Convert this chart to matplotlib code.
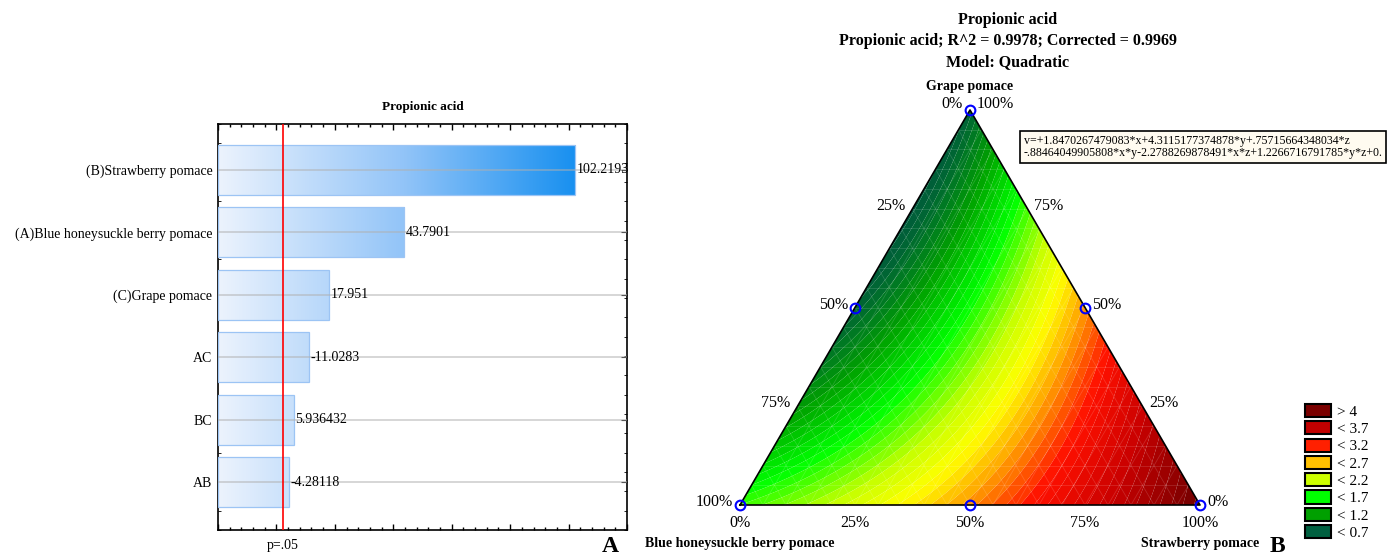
import numpy as np
import matplotlib
matplotlib.use('Agg')
import matplotlib.pyplot as plt
import matplotlib.tri as mtri
from matplotlib.colors import LinearSegmentedColormap, Normalize
from matplotlib.patches import Patch
from matplotlib.ticker import MultipleLocator, FixedLocator

plt.rcParams['font.family'] = ['Liberation Serif', 'DejaVu Serif']

# ---------------- data ----------------
effects = ["(B)Strawberry pomace", "(A)Blue honeysuckle berry pomace",
           "(C)Grape pomace", "AC", "BC", "AB"]
effect_values = [102.2193, 43.7901, 17.951, -11.0283, 5.936432, -4.28118]
effect_texts = ["102.2193", "43.7901", "17.951", "-11.0283", "5.936432", "-4.28118"]
p05_value = 2.4

coef_x, coef_y, coef_z = 1.8470267479083, 4.3115177374878, 0.75715664348034
coef_xy, coef_xz, coef_yz = -0.88464049905808, -2.2788269878491, 1.2266716791785
equation = ("v=+1.8470267479083*x+4.3115177374878*y+.75715664348034*z\n"
            "-.88464049905808*x*y-2.2788269878491*x*z+1.2266716791785*y*z+0.")

design_x = [1.0, 0.0, 0.0, 0.5, 0.5, 0.0]
design_y = [0.0, 1.0, 0.0, 0.5, 0.0, 0.5]
design_z = [0.0, 0.0, 1.0, 0.0, 0.5, 0.5]

legend_labels = ["> 4", "< 3.7", "< 3.2", "< 2.7", "< 2.2", "< 1.7", "< 1.2", "< 0.7"]
legend_colors = ["#7a0000", "#c00000", "#ff2000", "#ffc000", "#ccff00",
                 "#00ff00", "#00a000", "#006040"]

tick_fracs = [0.0, 0.25, 0.5, 0.75, 1.0]
tick_labels = ["0%", "25%", "50%", "75%", "100%"]

# colour anchors (value, colour) for the response surface
surf_vals = [0.55, 0.8, 1.2, 1.7, 2.2, 2.5, 2.8, 3.2, 3.7, 4.35]
surf_cols = ["#005540", "#006a30", "#00a000", "#00ff00", "#c8ff00",
             "#ffff00", "#ffa500", "#ff1000", "#c80000", "#6a0000"]

W, H = 1387, 558
fig = plt.figure(figsize=(W / 100, H / 100), dpi=100)

# ---------------- left: Pareto chart ----------------
ax = fig.add_axes([218 / W, (H - 530) / H, (627 - 218) / W, (530 - 124) / H])
xmin, xmax = -20, 120
n = len(effects)
ypos = np.arange(n)
absvals = np.abs(effect_values)
blue = LinearSegmentedColormap.from_list('blue', [(0, '#ecf3fd'), (0.52, '#92c4f8'), (1, '#1890f0')])
gnorm = Normalize(xmin, absvals.max())
for i, a in enumerate(absvals):
    grad = np.linspace(xmin, a, 256).reshape(1, -1)
    ax.imshow(grad, extent=[xmin, a, i + 0.4, i - 0.4], cmap=blue, norm=gnorm,
              aspect='auto', interpolation='bilinear', zorder=2)
ax.barh(ypos, absvals - xmin, left=xmin, height=0.8, facecolor='none',
        edgecolor='#9cc4f4', lw=0.9, zorder=3)
for i in ypos:
    ax.axhline(i, color='#b0b0b0', lw=1.3, alpha=0.55, zorder=4)
for i, (a, t) in enumerate(zip(absvals, effect_texts)):
    ax.text(a + 0.6, i, t, ha='left', va='center', fontsize=10, zorder=5, clip_on=False)
ax.axvline(p05_value, color='#ff0000', lw=1.2, zorder=6)

ax.set_xlim(xmin, xmax)
ylo, yhi = -0.736, 5.764
ax.set_ylim(yhi, ylo)
ax.set_xticks(np.arange(xmin, xmax + 1, 20))
ax.xaxis.set_minor_locator(MultipleLocator(4))
ax.tick_params(axis='x', which='both', direction='in', top=True, bottom=True,
               labelbottom=False)
ax.tick_params(axis='x', which='major', length=4, width=1)
ax.tick_params(axis='x', which='minor', length=2, width=1)
ax.set_yticks(ypos)
ax.set_yticklabels(effects, fontsize=10)
ax.yaxis.set_minor_locator(FixedLocator(np.linspace(ylo, yhi, 22)))
ax.tick_params(axis='y', which='both', direction='in', left=True, right=True, pad=4)
ax.tick_params(axis='y', which='major', length=4)
ax.tick_params(axis='y', which='minor', length=2)
for s in ax.spines.values():
    s.set_linewidth(1.2)
ax.set_title("Propionic acid", fontsize=9.5, fontweight='bold', pad=10)
fig.text(283 / W, 1 - 546 / H, "p=.05", ha='center', va='center', fontsize=10)
fig.text(610 / W, 0.5 / H, "A", ha='center', va='bottom', fontsize=17, fontweight='bold')

# ---------------- right: ternary contour ----------------
ax2 = fig.add_axes([640 / W, 0, (W - 640) / W, 1])
ax2.set_xlim(-100 / 460, (W - 740) / 460)
ax2.set_ylim(-(H - 505) / 460, 505 / 460)
ax2.axis('off')
h = 395 / 460


def tern(x, y, z):
    x, y, z = np.asarray(x), np.asarray(y), np.asarray(z)
    return y + 0.5 * z, h * z


N = 120
pts = [(i / N, j / N) for i in range(N + 1) for j in range(N + 1 - i)]
yy = np.array([p[0] for p in pts])
zz = np.array([p[1] for p in pts])
xx = np.clip(1 - yy - zz, 0, 1)
X, Y = tern(xx, yy, zz)
V = (coef_x * xx + coef_y * yy + coef_z * zz + coef_xy * xx * yy
     + coef_xz * xx * zz + coef_yz * yy * zz)
tri = mtri.Triangulation(X, Y)
vmin, vmax = surf_vals[0], surf_vals[-1]
cmap = LinearSegmentedColormap.from_list(
    'surf', [((v - vmin) / (vmax - vmin), c) for v, c in zip(surf_vals, surf_cols)])
levels = np.linspace(0.55, 4.35, 48)
ax2.tricontourf(tri, V, levels=levels, cmap=cmap, vmin=vmin, vmax=vmax,
                extend='both', antialiased=True)

# faint mesh lines
for f in np.arange(1, 20) / 20:
    segs = [((f, 1 - f, 0), (f, 0, 1 - f)),
            ((1 - f, f, 0), (0, f, 1 - f)),
            ((1 - f, 0, f), (0, 1 - f, f))]
    for p0, p1 in segs:
        xs, ys = tern([p0[0], p1[0]], [p0[1], p1[1]], [p0[2], p1[2]])
        ax2.plot(xs, ys, color='white', lw=0.6, alpha=0.15, zorder=3)

bx, by = tern([1, 0, 0, 1], [0, 1, 0, 0], [0, 0, 1, 0])
ax2.plot(bx, by, color='black', lw=1.2, zorder=4)
dx, dy = tern(design_x, design_y, design_z)
ax2.plot(dx, dy, 'o', mfc='none', mec='#0000ff', ms=7, mew=1.5, clip_on=False, zorder=5)

tfs = 11.5
for f, lab in zip(tick_fracs, tick_labels):
    # left edge: blue honeysuckle fraction
    px, py = tern(f, 0, 1 - f)
    up = 4 if f == 0 else 2
    ax2.annotate(lab, (px, py), xytext=(-5, up), textcoords='offset points',
                 ha='right', va='center', fontsize=tfs)
    # right edge: grape fraction
    px, py = tern(0, 1 - f, f)
    up = 4 if f == 1 else 2
    ax2.annotate(lab, (px, py), xytext=(5, up), textcoords='offset points',
                 ha='left', va='center', fontsize=tfs)
    # bottom edge: strawberry fraction
    px, py = tern(1 - f, f, 0)
    ax2.annotate(lab, (px, py), xytext=(0, -7), textcoords='offset points',
                 ha='center', va='top', fontsize=tfs)

tx, ty = tern(0, 0, 1)
ax2.annotate("Grape pomace", (tx, ty), xytext=(0, 17), textcoords='offset points',
             ha='center', va='center', fontsize=10, fontweight='bold')
lx, ly = tern(1, 0, 0)
ax2.annotate("Blue honeysuckle berry pomace", (lx, ly), xytext=(0, -27.5),
             textcoords='offset points', ha='center', va='center', fontsize=10, fontweight='bold')
rx, ry = tern(0, 1, 0)
ax2.annotate("Strawberry pomace", (rx, ry), xytext=(0, -27.5),
             textcoords='offset points', ha='center', va='center', fontsize=10, fontweight='bold')

cx = 1008 / W
fig.text(cx, 1 - 20 / H, "Propionic acid", ha='center', va='center', fontsize=11.5, fontweight='bold')
fig.text(cx, 1 - 41 / H, "Propionic acid; R^2 = 0.9978; Corrected = 0.9969",
         ha='center', va='center', fontsize=11.5, fontweight='bold')
fig.text(cx, 1 - 62 / H, "Model: Quadratic", ha='center', va='center', fontsize=11.5, fontweight='bold')

fig.text(1024 / W, 1 - 135 / H, equation, ha='left', va='top', fontsize=8.6, linespacing=1.0,
         bbox=dict(boxstyle='square,pad=0.3', fc='#fffbf0', ec='black', lw=1.2))

handles = [Patch(facecolor=c, edgecolor='black', lw=1.5) for c in legend_colors]
fig.legend(handles, legend_labels, loc='upper left',
           bbox_to_anchor=(1305 / W, 1 - 404 / H), frameon=False, fontsize=11,
           handlelength=1.7, handleheight=0.95, labelspacing=0.16, handletextpad=0.4,
           borderpad=0, borderaxespad=0)

fig.text(1277 / W, 0.5 / H, "B", ha='center', va='bottom', fontsize=17, fontweight='bold')

fig.savefig('out.png', dpi=100)
